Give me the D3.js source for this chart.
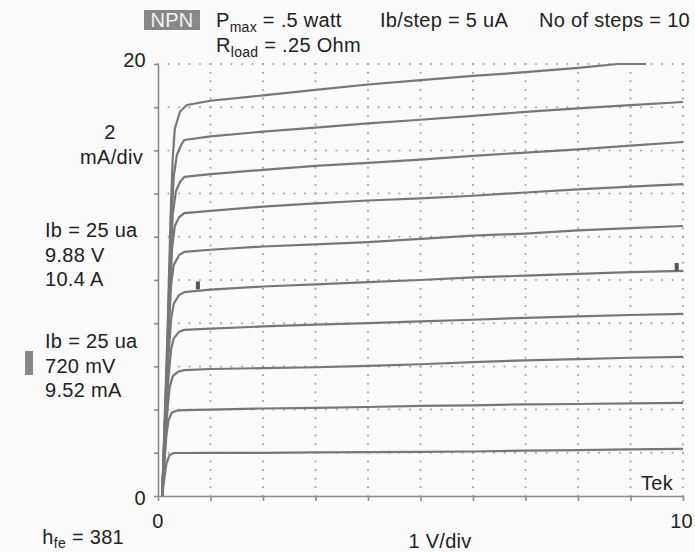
<!DOCTYPE html>
<html><head><meta charset="utf-8">
<script src="https://cdn.jsdelivr.net/npm/d3@7"></script>
<style>
html,body{margin:0;padding:0;background:#fbfbfb;}
svg{display:block;font-family:"Liberation Sans",Arial,Helvetica,sans-serif;}
text{letter-spacing:0.3px;}
</style></head>
<body>
<svg id="chart" width="695" height="552"></svg>
<script>
// Collector current (mA) vs collector-emitter voltage (V), one trace per base-current step
const xTickValues = [0,1,2,3,4,5,6,7,8,9,10];
const yTickValues = [0,2,4,6,8,10,12,14,16,18,20];
const ibSteps = [50,45,40,35,30,25,20,15,10,5];

const trace50 = [[0.08,0],[0.18,7.5],[0.24,13],[0.28,15.6],[0.32,17.0],[0.42,17.8],[0.55,18.1],[1,18.3],[2,18.55],[3,18.8],[4,19.05],[5,19.25],[6,19.45],[7,19.62],[8,19.82],[8.76,20],[9.3,20]];
const trace45 = [[0.08,0],[0.18,7],[0.24,12],[0.3,14.8],[0.36,15.8],[0.44,16.25],[0.5,16.48],[1,16.65],[2,16.87],[3,17.05],[4,17.25],[5,17.42],[6,17.6],[7,17.78],[8,17.95],[9,18.1],[10,18.24]];
const trace40 = [[0.08,0],[0.17,6],[0.23,10.5],[0.28,13],[0.34,14.1],[0.42,14.55],[0.5,14.77],[1,14.9],[2,15.1],[3,15.28],[4,15.42],[5,15.57],[6,15.75],[7,15.9],[8,16.05],[9,16.22],[10,16.39]];
const trace35 = [[0.08,0],[0.16,5],[0.22,9],[0.27,11.5],[0.32,12.5],[0.4,12.9],[0.5,13.1],[1,13.2],[2,13.4],[3,13.55],[4,13.68],[5,13.78],[6,13.9],[7,14.05],[8,14.2],[9,14.32],[10,14.44]];
const trace30 = [[0.08,0],[0.15,4.5],[0.2,7.5],[0.25,9.8],[0.3,10.7],[0.4,11.15],[0.5,11.3],[1,11.4],[2,11.55],[3,11.65],[4,11.75],[5,11.9],[6,12.05],[7,12.15],[8,12.3],[9,12.4],[10,12.5]];
const trace25 = [[0.08,0],[0.15,4],[0.2,6.5],[0.25,8.2],[0.3,8.9],[0.4,9.3],[0.5,9.44],[1,9.55],[2,9.7],[3,9.8],[4,9.9],[5,10.0],[6,10.12],[7,10.2],[8,10.28],[9,10.36],[10,10.42]];
const trace20 = [[0.08,0],[0.14,3],[0.2,5.5],[0.25,6.8],[0.3,7.3],[0.4,7.6],[0.5,7.69],[1,7.75],[2,7.85],[3,7.93],[4,8.0],[5,8.08],[6,8.16],[7,8.25],[8,8.32],[9,8.38],[10,8.43]];
const trace15 = [[0.08,0],[0.13,2],[0.18,4],[0.22,5.0],[0.28,5.55],[0.38,5.75],[0.5,5.83],[1,5.88],[2,5.92],[3,5.96],[4,6.02],[5,6.1],[6,6.2],[7,6.28],[8,6.34],[9,6.4],[10,6.44]];
const trace10 = [[0.08,0],[0.12,1.5],[0.16,2.8],[0.2,3.5],[0.26,3.85],[0.35,3.95],[0.5,3.98],[1,4.0],[2,4.05],[3,4.08],[4,4.12],[5,4.17],[6,4.2],[7,4.24],[8,4.26],[9,4.29],[10,4.31]];
const trace5  = [[0.08,0],[0.12,0.8],[0.16,1.5],[0.22,1.9],[0.3,1.99],[0.5,1.99],[1,2.0],[2,2.0],[3,2.02],[4,2.03],[5,2.04],[6,2.06],[7,2.1],[8,2.12],[9,2.16],[10,2.18]];
const traces = [trace50,trace45,trace40,trace35,trace30,trace25,trace20,trace15,trace10,trace5];

// cursor markers [V, mA]
const cursors = [[0.76,9.75],[9.88,10.6]];

const svg = d3.select("#chart");
const x = d3.scaleLinear().domain([0,10]).range([158,683]);
const y = d3.scaleLinear().domain([0,20]).range([496,64]);
const gridColor = "#a0a0a0";

// dotted graticule
const g = svg.append("g");
const hDots = [], vDots = [];
yTickValues.slice(1).forEach(v => { for (let k=0;k<=50;k++) hDots.push([k/5, v]); });
xTickValues.slice(1).forEach(v => { for (let k=0;k<=50;k++) vDots.push([v, k*20/50]); });
g.selectAll("circle.h").data(hDots).join("circle").attr("class","h")
  .attr("cx",d=>x(d[0])).attr("cy",d=>y(d[1])).attr("r",1).attr("fill",gridColor);
g.selectAll("circle.v").data(vDots).join("circle").attr("class","v")
  .attr("cx",d=>x(d[0])).attr("cy",d=>y(d[1])).attr("r",1).attr("fill",gridColor);

// axes
const axL = svg.append("g").attr("transform",`translate(${x(0)},0)`)
  .call(d3.axisLeft(y).tickValues(yTickValues).tickSize(4).tickSizeOuter(0).tickFormat(""));
const axB = svg.append("g").attr("transform",`translate(0,${y(0)})`)
  .call(d3.axisBottom(x).tickValues(xTickValues).tickSize(5).tickSizeOuter(0).tickFormat(""));
[axL,axB].forEach(a=>{a.selectAll("path,line").attr("stroke","#8c8c8c").attr("stroke-width",1.6);});

// traces
const line = d3.line().x(d=>x(d[0])).y(d=>y(d[1]));
svg.append("g").selectAll("path").data(traces).join("path")
  .attr("d",line).attr("fill","none").attr("stroke","#777").attr("stroke-width",2.2)
  .attr("stroke-linejoin","round");

// cursor markers
svg.append("g").selectAll("rect").data(cursors).join("rect")
  .attr("x",d=>x(d[0])-2).attr("y",d=>y(d[1])-4).attr("width",4).attr("height",8).attr("fill","#555");

// texts
const FS = 20;
const T = (tx,ty,s,anchor="start",size=FS) => svg.append("text").attr("x",tx).attr("y",ty)
  .attr("text-anchor",anchor).attr("font-size",size).attr("fill","#222").text(s);

svg.append("rect").attr("x",144).attr("y",10).attr("width",56).attr("height",20).attr("fill","#888");
svg.append("text").attr("x",172).attr("y",27).attr("text-anchor","middle").attr("font-size",FS).attr("fill","#f2f2f2").text("NPN");

const p = svg.append("text").attr("x",216).attr("y",27).attr("font-size",FS).attr("fill","#222");
p.append("tspan").text("P");
p.append("tspan").attr("font-size",14).attr("dy",5).text("max");
p.append("tspan").attr("dy",-5).text(" = .5 watt");
const r = svg.append("text").attr("x",216).attr("y",52).attr("font-size",FS).attr("fill","#222");
r.append("tspan").text("R");
r.append("tspan").attr("font-size",14).attr("dy",5).text("load");
r.append("tspan").attr("dy",-5).text(" = .25 Ohm");
T(380,27,"Ib/step = 5 uA");
T(690,27,"No of steps = 10","end");

T(146,y(20)+3,"20","end");
T(146,y(0)+9,"0","end");
T(110,139,"2","middle");
T(143,164,"mA/div","end");
T(45,237,"Ib = 25 ua"); T(45,262,"9.88 V"); T(45,286,"10.4 A");
T(45,348,"Ib = 25 ua"); T(45,373,"720 mV"); T(45,397,"9.52 mA");
svg.append("rect").attr("x",25).attr("y",351).attr("width",8).attr("height",24).attr("fill","#888");

T(x(0),528,"0","middle");
T(693,528,"10","end");
T(673,490,"Tek","end");
T(440,548,"1 V/div","middle");
const h = svg.append("text").attr("x",124).attr("y",544).attr("text-anchor","end").attr("font-size",FS).attr("fill","#222");
h.append("tspan").text("h");
h.append("tspan").attr("font-size",14).attr("dy",4).text("fe");
h.append("tspan").attr("dy",-4).text(" = 381");
</script>
</body></html>
